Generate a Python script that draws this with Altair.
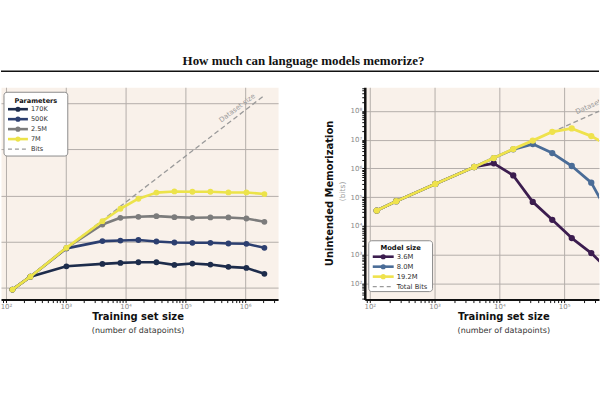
import altair as alt
import pandas as pd

# ---------------- text ----------------
TITLE = "How much can language models memorize?"
X_TITLE = "Training set size"
X_SUBTITLE = "(number of datapoints)"
Y_TITLE_RIGHT = "Unintended Memorization"
Y_SUBTITLE_RIGHT = "(bits)"
ANNOTATION = "Dataset size"
LEFT_LEGEND_TITLE = "Parameters"
RIGHT_LEGEND_TITLE = "Model size"

# ---------------- left panel data ----------------
N_LEFT = [128, 256, 1024, 4096, 8192, 16384, 32768, 65536, 131072, 262144, 524288, 1048576, 2097152]
LEFT_NAMES = ["170K", "500K", "2.5M", "7M"]
MEM_170K = [9060, 17300, 29000, 32700, 34400, 35500, 35500, 31100, 33300, 31600, 28200, 26800, 19900]
MEM_500K = [9060, 17300, 71000, 102000, 105000, 108000, 100000, 95100, 93700, 93700, 90600, 89200, 72900]
MEM_2_5M = [9060, 17300, 72900, 234000, 327000, 344000, 355000, 338000, 327000, 333000, 333000, 316000, 268000]
MEM_7M = [9060, 17300, 72900, 276000, 514000, 848000, 1150000, 1220000, 1200000, 1200000, 1160000, 1160000, 1070000]
LEFT_BITS_NAME = "Bits"
LEFT_BITS_N = [128, 2097152]
LEFT_BITS = [9060, 148000000]

# ---------------- right panel data ----------------
N_RIGHT = [128, 256, 1024, 4096, 8192, 16384, 32768, 65536, 131072, 262144, 524288]
RIGHT_NAMES = ["3.6M", "8.0M", "19.2M"]
MEM_3_6M = [34400, 72800, 288000, 1120000, 1500000, 568000, 68700, 16400, 3810, 1150, 250]
MEM_8_0M = [34400, 72800, 288000, 1120000, 2290000, 4600000, 6980000, 3410000, 1210000, 320000, 19000]
MEM_19_2M = [34400, 72800, 288000, 1120000, 2290000, 4690000, 9230000, 18600000, 24400000, 13200000, 5500000]
RIGHT_BITS_NAME = "Total Bits"
RIGHT_BITS_N = [128, 2097152]
RIGHT_BITS = [35800, 587000000]

# ---------------- ticks ----------------
X_MAJOR_LEFT = [100, 1000, 10000, 100000, 1000000]
X_LABELS_LEFT = ["10²", "10³", "10⁴", "10⁵", "10⁶"]
Y_MAJOR_LEFT = [1e4, 1e5, 1e6, 1e7, 1e8]
X_MAJOR_RIGHT = [100, 1000, 10000, 100000]
X_LABELS_RIGHT = ["10²", "10³", "10⁴", "10⁵"]
Y_MAJOR_RIGHT = [1e2, 1e3, 1e4, 1e5, 1e6, 1e7, 1e8]
Y_LABELS_RIGHT = ["10²", "10³", "10⁴", "10⁵", "10⁶", "10⁷", "10⁸"]

# ---------------- style ----------------
LEFT_COLORS = ["#1d2c4b", "#2c3f70", "#7c7c7c", "#ece34a"]
RIGHT_COLORS = ["#3c1d4f", "#4a6c97", "#efe24c"]
BG = "#f9f1ea"
GRID = "#b4aeaa"
TICK_LABEL = "#8a8a8a"
DASH_COLOR = "#9a9a9a"
FONT = "DejaVu Sans"

LW, RW, H = 278, 235, 213
LX_DOMAIN = [82.5, 3.55e6]
LY_DOMAIN = [5508, 2.218e8]
RX_DOMAIN = [83.75, 345100]
RY_DOMAIN = [27.9, 6.56e8]

MAJOR_TEST = "abs(log(datum.value) / LN10 - round(log(datum.value) / LN10)) < 0.0001"
GRID_COND = {"condition": {"test": MAJOR_TEST, "value": 1}, "value": 0}


def ticks_in(lo, hi):
    return [float(k * 10 ** n) for n in range(0, 10) for k in range(1, 10) if lo <= k * 10 ** n <= hi]


def label_expr(values, labels):
    parts = [f"abs(datum.value - {v}) < {v * 1e-6} ? '{l}'" for v, l in zip(values, labels)]
    return " : ".join(parts) + " : ''"


def x_axis(domain, majors, labels):
    return alt.Axis(values=ticks_in(*domain), labelExpr=label_expr(majors, labels),
                    grid=True, gridColor=GRID, gridWidth=1, gridOpacity=GRID_COND,
                    domain=True, domainColor="#111111", domainWidth=2,
                    ticks=True, tickColor="#111111", tickSize=3, tickWidth=1,
                    labelPadding=0, labelFontSize=7, labelColor=TICK_LABEL, labelFont=FONT,
                    labelFlush=False, labelOverlap=False, title=None)


def long_df(ns, names, series):
    rows = []
    for name, vals in zip(names, series):
        for n, v in zip(ns, vals):
            rows.append({"n": n, "mem": v, "series": name})
    return pd.DataFrame(rows)


ONE = pd.DataFrame({"k": [0]})


def txt(text, x, y, size=7, color="#222222", bold=False, angle=0, align="center",
        baseline="middle", font=FONT, clip=False):
    return alt.Chart(ONE).mark_text(text=text, fontSize=size, color=color,
                                    fontWeight="bold" if bold else "normal", angle=angle,
                                    align=align, baseline=baseline, font=font, clip=clip
                                    ).encode(x=alt.value(x), y=alt.value(y))


def legend(x0, x1, y0, y1, title, title_x, title_y, names, colors, dash_name,
           rows_y, sx0, sx1, lx, fsize):
    layers = [alt.Chart(ONE).mark_rect(fill="#ffffff", stroke="#8c8c8c", strokeWidth=1,
                                       cornerRadius=3).encode(
        x=alt.value(x0), x2=alt.value(x1), y=alt.value(y0), y2=alt.value(y1)),
        txt(title, title_x, title_y, size=fsize, bold=True, color="#111111")]
    for name, color, yy in zip(names, colors, rows_y):
        layers.append(alt.Chart(ONE).mark_rule(color=color, strokeWidth=2.6).encode(
            x=alt.value(sx0), x2=alt.value(sx1), y=alt.value(yy)))
        layers.append(alt.Chart(ONE).mark_circle(color=color, size=26, opacity=1).encode(
            x=alt.value((sx0 + sx1) / 2), y=alt.value(yy)))
        layers.append(txt(name, lx, yy, size=fsize, align="left", color="#333333"))
    yy = rows_y[len(names)]
    layers.append(alt.Chart(ONE).mark_rule(color=DASH_COLOR, strokeWidth=1.2, strokeDash=[4, 3]).encode(
        x=alt.value(sx0), x2=alt.value(sx1), y=alt.value(yy)))
    layers.append(txt(dash_name, lx, yy, size=fsize, align="left", color="#333333"))
    return layers


# ================= left panel =================
left_df = long_df(N_LEFT, LEFT_NAMES, [MEM_170K, MEM_500K, MEM_2_5M, MEM_7M])
left_bits = pd.DataFrame({"n": LEFT_BITS_N, "mem": LEFT_BITS})

lx = alt.X("n:Q", scale=alt.Scale(type="log", domain=LX_DOMAIN, nice=False),
           axis=x_axis(LX_DOMAIN, X_MAJOR_LEFT, X_LABELS_LEFT))
ly = alt.Y("mem:Q", scale=alt.Scale(type="log", domain=LY_DOMAIN, nice=False),
           axis=alt.Axis(values=Y_MAJOR_LEFT, labels=False, ticks=False, domain=False,
                         grid=True, gridColor=GRID, gridWidth=1, title=None))

left_layers = [alt.Chart(left_bits).mark_line(color=DASH_COLOR, strokeWidth=1.3,
                                              strokeDash=[5, 3]).encode(x=lx, y=ly)]
for name, color in zip(LEFT_NAMES, LEFT_COLORS):
    d = left_df[left_df.series == name]
    left_layers.append(alt.Chart(d).mark_line(color=color, strokeWidth=2.6, strokeJoin="round")
                       .encode(x=lx, y=ly))
    left_layers.append(alt.Chart(d).mark_circle(color=color, size=34, opacity=1)
                       .encode(x=lx, y=ly))

left_layers.append(txt(ANNOTATION, 237, 21, size=7, color="#9a9a9a", angle=323))
left_layers += legend(3, 67, 5, 69, LEFT_LEGEND_TITLE, 35, 14, LEFT_NAMES, LEFT_COLORS,
                      LEFT_BITS_NAME, [22, 32, 42, 52, 62], 7, 27, 30, 6.6)
left_layers.append(txt(X_TITLE, 137.5, 231, size=10, bold=True, color="#111111"))
left_layers.append(txt(X_SUBTITLE, 137.5, 245, size=8, color="#333333"))
# page heading and rule
left_layers.append(alt.Chart(ONE).mark_rule(color="#ffffff", strokeWidth=1).encode(
    x=alt.value(0), x2=alt.value(600), y=alt.value(-86.5)))
left_layers.append(txt(TITLE, 303.5, -26, size=13, bold=True, color="#111111",
                       font="Liberation Serif"))
left_layers.append(alt.Chart(ONE).mark_rule(color="#111111", strokeWidth=1.5).encode(
    x=alt.value(0), x2=alt.value(600), y=alt.value(-16)))

left = alt.layer(*left_layers).properties(width=LW, height=H)

# ================= right panel =================
right_df = long_df(N_RIGHT, RIGHT_NAMES, [MEM_3_6M, MEM_8_0M, MEM_19_2M])
right_bits = pd.DataFrame({"n": RIGHT_BITS_N, "mem": RIGHT_BITS})

rx = alt.X("n:Q", scale=alt.Scale(type="log", domain=RX_DOMAIN, nice=False),
           axis=x_axis(RX_DOMAIN, X_MAJOR_RIGHT, X_LABELS_RIGHT))
ry = alt.Y("mem:Q", scale=alt.Scale(type="log", domain=RY_DOMAIN, nice=False),
           axis=alt.Axis(values=ticks_in(*RY_DOMAIN), labelExpr=label_expr(Y_MAJOR_RIGHT, Y_LABELS_RIGHT),
                         grid=True, gridColor=GRID, gridWidth=1, gridOpacity=GRID_COND,
                         domain=True, domainColor="#111111", domainWidth=2.5,
                         ticks=True, tickColor="#111111", tickSize=3, tickWidth=1,
                         labelPadding=0, labelFontSize=7, labelColor=TICK_LABEL, labelFont=FONT,
                         labelFlush=False, labelOverlap=False, title=None))

right_layers = [alt.Chart(right_bits).mark_line(color=DASH_COLOR, strokeWidth=1.3,
                                                strokeDash=[5, 3], clip=True).encode(x=rx, y=ry)]
for name, color in zip(RIGHT_NAMES, RIGHT_COLORS):
    d = right_df[right_df.series == name]
    right_layers.append(alt.Chart(d).mark_line(color=color, strokeWidth=2.8, strokeJoin="round",
                                               clip=True).encode(x=rx, y=ry))
    right_layers.append(alt.Chart(d).mark_circle(color=color, size=40, opacity=1, clip=True)
                        .encode(x=rx, y=ry))

right_layers.append(txt(ANNOTATION, 213, 28, size=7, color="#9a9a9a", angle=336,
                        align="left", baseline="bottom", clip=True))
right_layers += legend(4, 68, 154, 205, RIGHT_LEGEND_TITLE, 36, 161, RIGHT_NAMES, RIGHT_COLORS,
                       RIGHT_BITS_NAME, [170, 180, 190, 200], 8, 29, 32, 6.8)
right_layers.append(txt(X_TITLE, 139.5, 231, size=10, bold=True, color="#111111"))
right_layers.append(txt(X_SUBTITLE, 139.5, 245, size=8, color="#333333"))
right_layers.append(txt(Y_TITLE_RIGHT, -35, 106.5, size=10, bold=True, color="#111111", angle=270))
right_layers.append(txt(Y_SUBTITLE_RIGHT, -22, 104.5, size=7.5, color="#9a9a9a", angle=270))

right = alt.layer(*right_layers).properties(width=RW, height=H)

chart = (alt.hconcat(left, right, spacing=87, bounds="flush")
         .properties(padding=0)
         .configure(font=FONT)
         .configure_view(fill=BG, strokeOpacity=0))

chart.save("out.html", embed_options={"renderer": "svg", "actions": False})
